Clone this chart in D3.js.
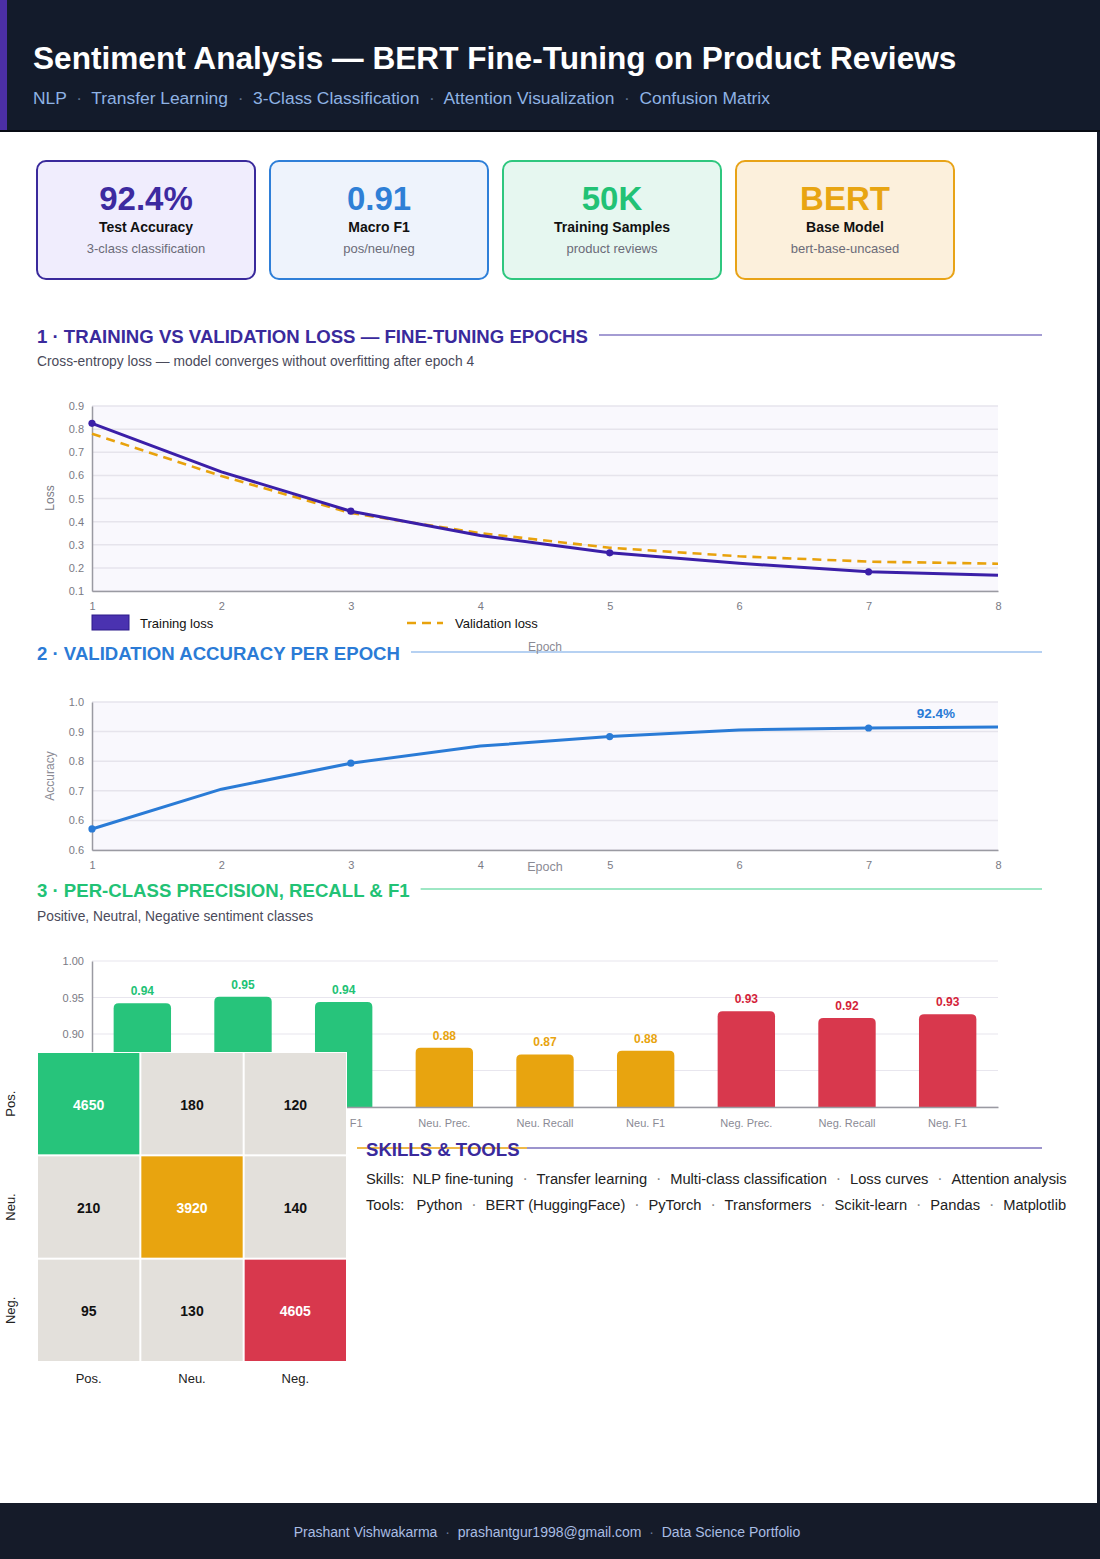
<!DOCTYPE html>
<html>
<head>
<meta charset="utf-8">
<script src="https://cdn.jsdelivr.net/npm/d3@7"></script>
<style>
body { margin: 0; background: #151b29; }
svg { display: block; font-family: "Liberation Sans", Arial, Helvetica, sans-serif; }
</style>
</head>
<body>
<script>
// ---- data ----
var headerTags = ["NLP", "Transfer Learning", "3-Class Classification", "Attention Visualization", "Confusion Matrix"];

var kpiValues = ["92.4%", "0.91", "50K", "BERT"];
var kpiLabels = ["Test Accuracy", "Macro F1", "Training Samples", "Base Model"];
var kpiNotes = ["3-class classification", "pos/neu/neg", "product reviews", "bert-base-uncased"];

var epochs = [1, 2, 3, 4, 5, 6, 7, 8];
var trainLoss = [0.825, 0.615, 0.445, 0.34, 0.265, 0.22, 0.183, 0.168];
var valLoss = [0.78, 0.597, 0.437, 0.35, 0.287, 0.25, 0.227, 0.218];
var lossTicks = [0.1, 0.2, 0.3, 0.4, 0.5, 0.6, 0.7, 0.8, 0.9];

var valAcc = [0.614, 0.735, 0.814, 0.866, 0.895, 0.915, 0.921, 0.924];
var accTicks = [0.55, 0.64, 0.73, 0.82, 0.91, 1.0];

var metricNames = ["Pos. Prec.", "Pos. Recall", "Pos. F1", "Neu. Prec.", "Neu. Recall", "Neu. F1", "Neg. Prec.", "Neg. Recall", "Neg. F1"];
var metricClass = ["pos", "pos", "pos", "neu", "neu", "neu", "neg", "neg", "neg"];
var metricValues = [0.942, 0.951, 0.944, 0.881, 0.872, 0.877, 0.931, 0.922, 0.927];
var metricGrid = [0.80, 0.85, 0.90, 0.95, 1.00];
var metricTicks = [0.90, 0.95, 1.00];   // the lower two sit under the matrix

var cmLabels = ["Pos.", "Neu.", "Neg."];
var cmValues = [
	[4650, 180, 120],
	[210, 3920, 140],
	[95, 130, 4605]
];

var skills = ["NLP fine-tuning", "Transfer learning", "Multi-class classification", "Loss curves", "Attention analysis"];
var tools = ["Python", "BERT (HuggingFace)", "PyTorch", "Transformers", "Scikit-learn", "Pandas", "Matplotlib"];
var footerParts = ["Prashant Vishwakarma", "prashantgur1998@gmail.com", "Data Science Portfolio"];

// ---- styles ----
var kpiStroke = ["#3a2a9c", "#2f7fd8", "#2fc77f", "#e8a317"];
var kpiFill = ["#f0edfd", "#eef3fc", "#e6f7f0", "#fcf0dc"];
var kpiText = ["#3d2aa0", "#2f7fd6", "#22c275", "#e8a512"];
var classColor = {pos: "#27c47b", neu: "#e8a40f", neg: "#d8384d"};
var classLabelColor = {pos: "#22c275", neu: "#e8a40f", neg: "#d41f3a"};
var cmDiag = ["#27c47b", "#e8a40f", "#d8384d"];

var svg = d3.select("body").append("svg")
	.attr("width", 1100)
	.attr("height", 1559);

// page
svg.append("rect").attr("width", 1100).attr("height", 1559).attr("fill", "#151b29");
svg.append("rect").attr("x", 0).attr("y", 131).attr("width", 1097).attr("height", 1372).attr("fill", "#ffffff");

// header
svg.append("rect").attr("width", 1100).attr("height", 131).attr("fill", "#131b2b");
svg.append("rect").attr("width", 7).attr("height", 131).attr("fill", "#4c2fa5");
svg.append("line").attr("x1", 0).attr("x2", 1100).attr("y1", 131).attr("y2", 131)
	.attr("stroke", "#080c14").attr("stroke-width", 2);
svg.append("text")
	.attr("x", 33).attr("y", 69)
	.attr("fill", "#ffffff")
	.attr("font-size", 31.6)
	.attr("font-weight", "bold")
	.text("Sentiment Analysis \u2014 BERT Fine-Tuning on Product Reviews");
var sub = svg.append("text")
	.attr("x", 33).attr("y", 104)
	.attr("font-size", 17.4)
	.attr("fill", "#8fb3e4")
	.attr("xml:space", "preserve");
headerTags.forEach(function(t, i) {
	if (i > 0) sub.append("tspan").attr("fill", "#5d6f8e").text("  \u00b7  ");
	sub.append("tspan").text(t);
});

// KPI cards
var cards = svg.selectAll("g.kpi").data(kpiValues).enter()
	.append("g")
	.classed("kpi", true)
	.attr("transform", function(d, i) {return "translate(" + (37 + i * 233) + ",161)";});
cards.append("rect")
	.attr("width", 218).attr("height", 118).attr("rx", 9)
	.attr("fill", function(d, i) {return kpiFill[i];})
	.attr("stroke", function(d, i) {return kpiStroke[i];})
	.attr("stroke-width", 2);
cards.append("text")
	.attr("x", 109).attr("y", 49)
	.attr("text-anchor", "middle")
	.attr("font-size", 33).attr("font-weight", "bold")
	.attr("fill", function(d, i) {return kpiText[i];})
	.text(function(d) {return d;});
cards.append("text")
	.attr("x", 109).attr("y", 71)
	.attr("text-anchor", "middle")
	.attr("font-size", 14).attr("font-weight", "bold")
	.attr("fill", "#111")
	.text(function(d, i) {return kpiLabels[i];});
cards.append("text")
	.attr("x", 109).attr("y", 92)
	.attr("text-anchor", "middle")
	.attr("font-size", 13)
	.attr("fill", "#6b6b78")
	.text(function(d, i) {return kpiNotes[i];});

function heading(x, y, label, color, lineColor, lineStart) {
	var t = svg.append("text")
		.attr("x", x).attr("y", y)
		.attr("font-size", 18.6).attr("font-weight", "bold")
		.attr("fill", color)
		.text(label);
	var w = t.node().getComputedTextLength();
	svg.insert("line", "text")
		.attr("x1", lineStart != null ? lineStart : x + w + 11).attr("x2", 1042)
		.attr("y1", y - 8).attr("y2", y - 8)
		.attr("stroke", lineColor).attr("stroke-width", 1.2);
}
function subtitle(y, label) {
	svg.append("text")
		.attr("x", 37).attr("y", y)
		.attr("font-size", 13.8)
		.attr("fill", "#4a4a5a")
		.text(label);
}

// ---- 1: loss ----
heading(37, 343, "1 \u00b7 TRAINING VS VALIDATION LOSS \u2014 FINE-TUNING EPOCHS", "#3a2a9c", "#4a3aa8");
subtitle(366, "Cross-entropy loss \u2014 model converges without overfitting after epoch 4");

var xE = d3.scaleLinear().domain([1, 8]).range([92, 998]);

function linePlot(g, yScale, ticks, fmt) {
	g.append("rect")
		.attr("x", xE(1)).attr("y", yScale.range()[1])
		.attr("width", xE(8) - xE(1))
		.attr("height", yScale.range()[0] - yScale.range()[1])
		.attr("fill", "#f9f8fd");
	g.selectAll("line.grid").data(ticks).enter()
		.append("line").classed("grid", true)
		.attr("x1", xE(1)).attr("x2", xE(8))
		.attr("y1", function(d) {return yScale(d);})
		.attr("y2", function(d) {return yScale(d);})
		.attr("stroke", "#e6e4ec").attr("stroke-width", 1.5);
	var ya = g.append("g")
		.attr("transform", "translate(" + xE(1) + ",0)")
		.call(d3.axisLeft(yScale).tickValues(ticks).tickFormat(fmt).tickSize(0).tickPadding(8));
	ya.select(".domain").attr("stroke", "#9a9aa2").attr("stroke-width", 1.5);
	ya.selectAll("text").attr("fill", "#7a7a84").attr("font-size", 11).attr("font-family", null);
	var xa = g.append("g")
		.attr("transform", "translate(0," + yScale.range()[0] + ")")
		.call(d3.axisBottom(xE).tickValues(epochs).tickFormat(d3.format("d")).tickSize(0).tickPadding(11));
	xa.select(".domain").attr("stroke", "#9a9aa2").attr("stroke-width", 1.5);
	xa.selectAll("text").attr("fill", "#7a7a84").attr("font-size", 11).attr("font-family", null);
}

var yLoss = d3.scaleLinear().domain([0.1, 0.9]).range([591, 406]);
var lossG = svg.append("g");
linePlot(lossG, yLoss, lossTicks, d3.format(".1f"));

var lossLine = d3.line()
	.x(function(d, i) {return xE(epochs[i]);})
	.y(function(d) {return yLoss(d);});
lossG.append("path")
	.attr("d", lossLine(valLoss))
	.attr("fill", "none").attr("stroke", "#e8a20c").attr("stroke-width", 2.6)
	.attr("stroke-dasharray", "9,6");
lossG.append("path")
	.attr("d", lossLine(trainLoss))
	.attr("fill", "none").attr("stroke", "#3b1fa8").attr("stroke-width", 3)
	.attr("stroke-linejoin", "round");
lossG.selectAll("circle.tr").data(trainLoss.filter(function(d, i) {return i % 2 === 0;})).enter()
	.append("circle").classed("tr", true)
	.attr("cx", function(d, i) {return xE(epochs[i * 2]);})
	.attr("cy", function(d) {return yLoss(d);})
	.attr("r", 3.6).attr("fill", "#3b1fa8");
lossG.append("text")
	.attr("transform", "translate(54,498) rotate(-90)")
	.attr("text-anchor", "middle").attr("font-size", 12).attr("fill", "#7a7a84")
	.text("Loss");
// legend
lossG.append("rect").attr("x", 92).attr("y", 615).attr("width", 37).attr("height", 15)
	.attr("fill", "#4a32b0").attr("stroke", "#2c1a8a").attr("stroke-width", 1);
lossG.append("text").attr("x", 140).attr("y", 628).attr("font-size", 13).attr("fill", "#111").text("Training loss");
lossG.append("line").attr("x1", 407).attr("x2", 443).attr("y1", 623).attr("y2", 623)
	.attr("stroke", "#e8a20c").attr("stroke-width", 2.6).attr("stroke-dasharray", "9,6");
lossG.append("text").attr("x", 455).attr("y", 628).attr("font-size", 13).attr("fill", "#111").text("Validation loss");
lossG.append("text").attr("x", 545).attr("y", 651).attr("text-anchor", "middle")
	.attr("font-size", 12).attr("fill", "#8a8a94").text("Epoch");

// ---- 2: accuracy ----
heading(37, 660, "2 \u00b7 VALIDATION ACCURACY PER EPOCH", "#2b7bd6", "#6ea3e6");

var yAcc = d3.scaleLinear().domain([0.55, 1.0]).range([850, 702]);
var accG = svg.append("g");
linePlot(accG, yAcc, accTicks, d3.format(".1f"));
var accLine = d3.line()
	.x(function(d, i) {return xE(epochs[i]);})
	.y(function(d) {return yAcc(d);});
accG.append("path")
	.attr("d", accLine(valAcc))
	.attr("fill", "none").attr("stroke", "#2a7bd6").attr("stroke-width", 3)
	.attr("stroke-linejoin", "round");
accG.selectAll("circle.acc").data(valAcc.filter(function(d, i) {return i % 2 === 0;})).enter()
	.append("circle").classed("acc", true)
	.attr("cx", function(d, i) {return xE(epochs[i * 2]);})
	.attr("cy", function(d) {return yAcc(d);})
	.attr("r", 3.6).attr("fill", "#2a7bd6");
accG.append("text")
	.attr("x", xE(8) - 43).attr("y", yAcc(valAcc[7]) - 9)
	.attr("text-anchor", "end")
	.attr("font-size", 13.5).attr("font-weight", "bold").attr("fill", "#2a7bd6")
	.text(d3.format(".1%")(valAcc[7]));
accG.append("text")
	.attr("transform", "translate(54,776) rotate(-90)")
	.attr("text-anchor", "middle").attr("font-size", 12).attr("fill", "#8a8a94")
	.text("Accuracy");
accG.append("text").attr("x", 545).attr("y", 871).attr("text-anchor", "middle")
	.attr("font-size", 12.5).attr("fill", "#8a8a94").text("Epoch");

// ---- 3: per-class bars ----
heading(37, 897, "3 \u00b7 PER-CLASS PRECISION, RECALL & F1", "#22c275", "#3fcf8a");
subtitle(921, "Positive, Neutral, Negative sentiment classes");

var xB = d3.scaleBand().domain(metricNames).range([92, 998]).paddingInner(0.43).paddingOuter(0.215);
var yB = d3.scaleLinear().domain([0.8, 1.0]).range([1107, 961]);
var barG = svg.append("g");
barG.selectAll("line.grid").data(metricGrid).enter()
	.append("line").classed("grid", true)
	.attr("x1", 92).attr("x2", 998)
	.attr("y1", function(d) {return yB(d);}).attr("y2", function(d) {return yB(d);})
	.attr("stroke", "#e8e6ee").attr("stroke-width", 1.2);
var yba = barG.append("g").attr("transform", "translate(92,0)")
	.call(d3.axisLeft(yB).tickValues(metricTicks).tickFormat(d3.format(".2f")).tickSize(0).tickPadding(8));
yba.select(".domain").attr("stroke", "#9a9aa2").attr("stroke-width", 1.5);
yba.selectAll("text").attr("fill", "#7a7a84").attr("font-size", 11).attr("font-family", null);

function topRounded(x, y, w, h, r) {
	return "M" + x + "," + (y + h) + "V" + (y + r) + "Q" + x + "," + y + " " + (x + r) + "," + y +
		"H" + (x + w - r) + "Q" + (x + w) + "," + y + " " + (x + w) + "," + (y + r) + "V" + (y + h) + "Z";
}
barG.selectAll("path.bar").data(metricValues).enter()
	.append("path").classed("bar", true)
	.attr("d", function(d, i) {
		return topRounded(xB(metricNames[i]), yB(d), xB.bandwidth(), yB(0.8) - yB(d), 5);
	})
	.attr("fill", function(d, i) {return classColor[metricClass[i]];});
barG.selectAll("text.val").data(metricValues).enter()
	.append("text").classed("val", true)
	.attr("x", function(d, i) {return xB(metricNames[i]) + xB.bandwidth() / 2;})
	.attr("y", function(d) {return yB(d) - 8;})
	.attr("text-anchor", "middle")
	.attr("font-size", 12).attr("font-weight", "bold")
	.attr("fill", function(d, i) {return classLabelColor[metricClass[i]];})
	.text(function(d) {return d3.format(".2f")(d);});
var xba = barG.append("g").attr("transform", "translate(0,1107)")
	.call(d3.axisBottom(xB).tickSize(0).tickPadding(12));
xba.select(".domain").attr("stroke", "#9a9aa2").attr("stroke-width", 1.5);
xba.selectAll("text").attr("fill", "#8a8a94").attr("font-size", 11).attr("font-family", null);

// ---- confusion matrix (sits over the bar chart) ----
var cmX = d3.scaleBand().domain([0, 1, 2]).range([37, 347]);
var cmY = d3.scaleBand().domain([0, 1, 2]).range([1052, 1362]);
var cmG = svg.append("g");
cmG.append("rect").attr("x", 37).attr("y", 1052).attr("width", 310).attr("height", 310).attr("fill", "#ffffff");
var cells = [];
cmValues.forEach(function(row, r) {
	row.forEach(function(v, c) {cells.push({r: r, c: c, v: v});});
});
cmG.selectAll("rect.cell").data(cells).enter()
	.append("rect").classed("cell", true)
	.attr("x", function(d) {return cmX(d.c) + 1;})
	.attr("y", function(d) {return cmY(d.r) + 1;})
	.attr("width", cmX.bandwidth() - 2)
	.attr("height", cmY.bandwidth() - 2)
	.attr("fill", function(d) {return d.r === d.c ? cmDiag[d.r] : "#e3e0db";});
cmG.selectAll("text.cell").data(cells).enter()
	.append("text").classed("cell", true)
	.attr("x", function(d) {return cmX(d.c) + cmX.bandwidth() / 2;})
	.attr("y", function(d) {return cmY(d.r) + cmY.bandwidth() / 2 + 6;})
	.attr("text-anchor", "middle")
	.attr("font-size", 14).attr("font-weight", "bold")
	.attr("fill", function(d) {return d.r === d.c ? "#ffffff" : "#111";})
	.text(function(d) {return d.v;});
cmG.selectAll("text.row").data(cmLabels).enter()
	.append("text").classed("row", true)
	.attr("transform", function(d, i) {return "translate(15," + (cmY(i) + cmY.bandwidth() / 2) + ") rotate(-90)";})
	.attr("text-anchor", "middle").attr("font-size", 13).attr("fill", "#222")
	.text(function(d) {return d;});
cmG.selectAll("text.col").data(cmLabels).enter()
	.append("text").classed("col", true)
	.attr("x", function(d, i) {return cmX(i) + cmX.bandwidth() / 2;})
	.attr("y", 1383)
	.attr("text-anchor", "middle").attr("font-size", 13).attr("fill", "#222")
	.text(function(d) {return d;});

// ---- skills & tools ----
svg.append("line").attr("x1", 357).attr("x2", 527).attr("y1", 1148).attr("y2", 1148)
	.attr("stroke", "#e8a20c").attr("stroke-width", 1.5);
heading(366, 1156, "SKILLS & TOOLS", "#3a2a9c", "#3a2a9c", 527);

function listLine(y, label, items) {
	var t = svg.append("text").attr("x", 366).attr("y", y).attr("font-size", 14.7).attr("fill", "#222")
		.attr("xml:space", "preserve");
	t.append("tspan").text(label + "  ");
	items.forEach(function(s, i) {
		if (i > 0) t.append("tspan").attr("fill", "#888").attr("font-size", 16).text("  \u00b7  ");
		t.append("tspan").text(s);
	});
}
listLine(1184, "Skills:", skills);
listLine(1210, "Tools: ", tools);

// footer
var foot = svg.append("text")
	.attr("x", 547).attr("y", 1537)
	.attr("text-anchor", "middle")
	.attr("font-size", 14).attr("fill", "#a9bde3")
	.attr("xml:space", "preserve");
footerParts.forEach(function(s, i) {
	if (i > 0) foot.append("tspan").attr("fill", "#6a7a98").text("  \u00b7  ");
	foot.append("tspan").text(s);
});
</script>
</body>
</html>
